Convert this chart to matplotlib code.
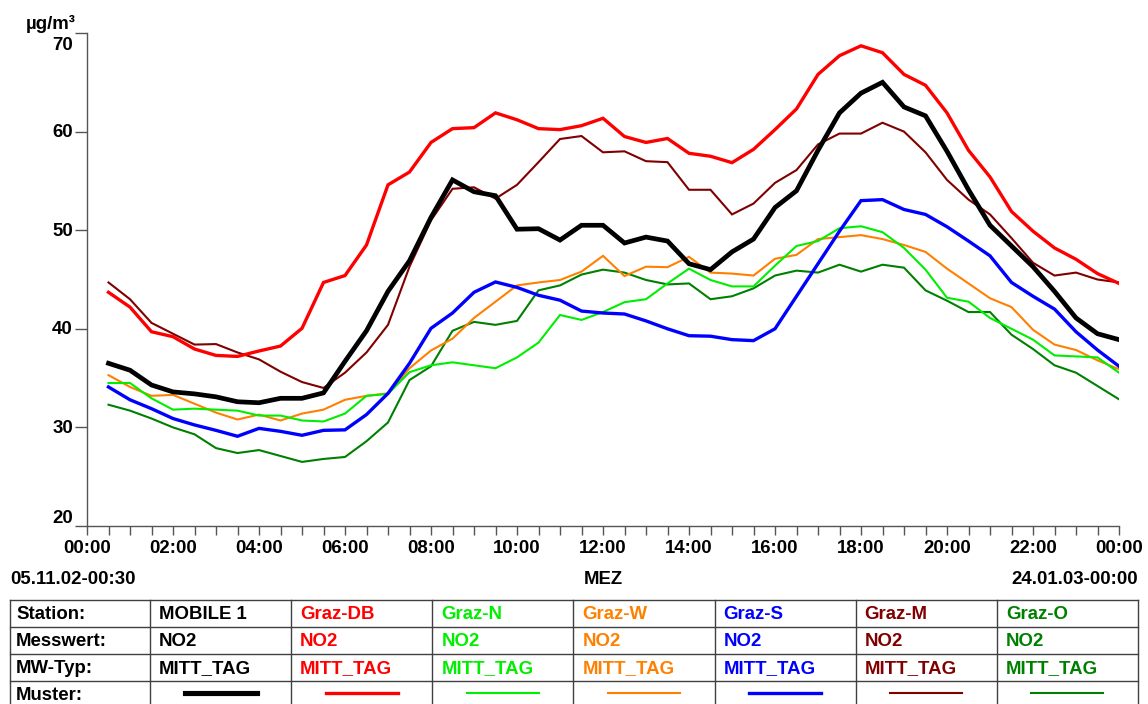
import numpy as np
import matplotlib
matplotlib.use("Agg")
import matplotlib.pyplot as plt
from matplotlib.lines import Line2D

plt.rcParams['font.family'] = ['Liberation Sans', 'DejaVu Sans']
plt.rcParams['font.weight'] = 'bold'

# half-hourly diurnal means, 00:30 ... 24:00
hours = np.arange(1, 49) * 0.5

mobile_1 = [36.5, 35.8, 34.3, 33.6, 33.4, 33.1, 32.6, 32.5, 32.95, 32.95, 33.5, 36.7,
            39.8, 43.8, 46.9, 51.3, 55.1, 53.9, 53.5, 50.1, 50.15, 49.0, 50.5, 50.5,
            48.7, 49.3, 48.9, 46.6, 46.0, 47.8, 49.1, 52.3, 54.0, 58.1, 61.9, 63.9,
            65.0, 62.5, 61.6, 58.0, 54.1, 50.5, 48.4, 46.3, 43.8, 41.1, 39.5, 38.9]
graz_db = [43.7, 42.2, 39.7, 39.2, 37.95, 37.3, 37.2, 37.75, 38.25, 40.05, 44.7, 45.4,
           48.5, 54.6, 55.9, 58.9, 60.3, 60.4, 61.9, 61.2, 60.3, 60.2, 60.6, 61.35,
           59.5, 58.9, 59.3, 57.8, 57.5, 56.85, 58.2, 60.2, 62.3, 65.8, 67.7, 68.7,
           68.0, 65.8, 64.7, 61.9, 58.1, 55.4, 51.9, 49.9, 48.2, 47.05, 45.6, 44.6]
graz_n = [34.5, 34.5, 32.95, 31.8, 31.9, 31.8, 31.7, 31.2, 31.2, 30.7, 30.6, 31.4,
          33.2, 33.4, 35.6, 36.3, 36.6, 36.3, 36.0, 37.1, 38.6, 41.4, 40.9, 41.7,
          42.7, 43.0, 44.6, 46.1, 44.95, 44.3, 44.3, 46.4, 48.4, 48.9, 50.2, 50.4,
          49.8, 48.2, 46.0, 43.15, 42.75, 41.1, 40.0, 38.9, 37.3, 37.2, 37.1, 35.55]
graz_w = [35.3, 34.1, 33.2, 33.3, 32.4, 31.5, 30.8, 31.3, 30.7, 31.4, 31.8, 32.8,
          33.2, 33.45, 36.0, 37.8, 39.0, 41.1, 42.75, 44.4, 44.7, 44.95, 45.8, 47.4,
          45.35, 46.3, 46.25, 47.3, 45.7, 45.6, 45.4, 47.1, 47.5, 49.1, 49.3, 49.5,
          49.1, 48.5, 47.8, 46.1, 44.6, 43.1, 42.2, 39.9, 38.4, 37.85, 36.8, 35.9]
graz_s = [34.1, 32.8, 31.9, 30.9, 30.25, 29.7, 29.1, 29.9, 29.6, 29.2, 29.7, 29.75,
          31.3, 33.45, 36.5, 40.05, 41.6, 43.7, 44.75, 44.2, 43.4, 42.9, 41.8, 41.6,
          41.5, 40.8, 40.0, 39.3, 39.25, 38.9, 38.8, 40.0, 43.3, 46.6, 49.9, 53.0,
          53.1, 52.1, 51.6, 50.35, 48.9, 47.4, 44.7, 43.3, 42.0, 39.7, 37.85, 36.2]
graz_m = [44.7, 43.0, 40.6, 39.5, 38.4, 38.45, 37.6, 36.9, 35.65, 34.6, 34.0, 35.55,
          37.6, 40.4, 46.3, 51.0, 54.2, 54.35, 53.2, 54.6, 56.9, 59.25, 59.55, 57.9,
          58.0, 57.0, 56.9, 54.1, 54.1, 51.6, 52.7, 54.8, 56.1, 58.7, 59.8, 59.8,
          60.9, 60.0, 57.9, 55.1, 53.1, 51.6, 49.2, 46.7, 45.4, 45.7, 45.0, 44.7]
graz_o = [32.3, 31.7, 30.9, 30.0, 29.3, 27.9, 27.4, 27.7, 27.1, 26.5, 26.8, 27.0,
          28.6, 30.5, 34.8, 36.2, 39.8, 40.7, 40.4, 40.8, 43.9, 44.4, 45.5, 46.0,
          45.7, 44.95, 44.5, 44.6, 43.0, 43.3, 44.1, 45.4, 45.9, 45.7, 46.5, 45.8,
          46.5, 46.2, 43.9, 42.85, 41.7, 41.7, 39.4, 37.95, 36.3, 35.55, 34.2, 32.85]

stations = ['MOBILE 1', 'Graz-DB', 'Graz-N', 'Graz-W', 'Graz-S', 'Graz-M', 'Graz-O']
components = ['NO2'] * 7
value_types = ['MITT_TAG'] * 7
series = [mobile_1, graz_db, graz_n, graz_w, graz_s, graz_m, graz_o]
colors = ['#000000', '#ff0000', '#00ee00', '#ff8000', '#0000ff', '#800000', '#008000']
widths = [3.4, 2.4, 1.5, 1.5, 2.4, 1.5, 1.5]

y_ticks = [20, 30, 40, 50, 60, 70]
x_major = np.arange(0, 25, 2)
x_labels = ['%02d:00' % (h % 24) for h in x_major]

W, H = 1148, 704
fig = plt.figure(figsize=(W / 100, H / 100), dpi=100)
ax = fig.add_axes([87 / W, 1 - 526 / H, (1119 - 87) / W, (526 - 33) / H])

# drawing order: thin lines first, the mobile station on top
order = [6, 5, 3, 2, 4, 1, 0]
for i in order:
    ax.plot(hours, series[i], color=colors[i], lw=widths[i],
            solid_joinstyle='miter', zorder=2 + order.index(i))

ax.set_xlim(0, 24)
ax.set_ylim(20, 70)
for s in ('top', 'right'):
    ax.spines[s].set_visible(False)
axis_col = '#555555'
for s in ('left', 'bottom'):
    ax.spines[s].set_color(axis_col)
    ax.spines[s].set_linewidth(1.0)

ax.set_xticks(x_major)
ax.set_xticklabels(x_labels, fontsize=13.4, fontweight='bold')
ax.set_xticks(np.arange(0, 24.01, 0.5), minor=True)
ax.tick_params(axis='x', which='both', direction='out', length=6.5, width=1.0,
               color=axis_col, pad=3.5)

ax.set_yticks(y_ticks)
ax.set_yticklabels([])
ax.tick_params(axis='y', direction='out', length=8.6, width=1.0, color=axis_col)
ytrans = ax.get_yaxis_transform()
for v in y_ticks:
    if v == y_ticks[-1]:
        va, dy = 'top', -0.45
    elif v == y_ticks[0]:
        va, dy = 'baseline', 0.3
    else:
        va, dy = 'center', -0.1
    ax.text(-14 / (1119 - 87), v + dy, str(v), transform=ytrans, ha='right', va=va,
            fontsize=13.4, fontweight='bold')

fig.text(76 / W, 1 - 24 / H, 'µg/m³', ha='right', va='center', fontsize=13.4,
         fontweight='bold')

# footer line under the time axis
fig.text(10 / W, 1 - 580 / H, '05.11.02-00:30', ha='left', va='center',
         fontsize=13.4, fontweight='bold')
fig.text(603 / W, 1 - 580 / H, 'MEZ', ha='center', va='center', fontsize=13.4,
         fontweight='bold')
fig.text(1138 / W, 1 - 580 / H, '24.01.03-00:00', ha='right', va='center',
         fontsize=13.4, fontweight='bold')

# station table in pixel coordinates
tab = fig.add_axes([0, 0, 1, 1], zorder=-1)
tab.set_xlim(0, W)
tab.set_ylim(H, 0)
tab.axis('off')
grid_col = '#404040'
rows = [600, 627, 654, 681, 708]
col_left = 10
col_first = 150
col_right = 1138
col_w = (col_right - col_first) / 7
cols = [col_left] + [col_first + i * col_w for i in range(8)]
for r in rows:
    tab.plot([col_left, col_right], [r, r], color=grid_col, lw=1.0)
for c in cols:
    tab.plot([c, c], [rows[0], rows[-1]], color=grid_col, lw=1.0)

row_titles = ['Station:', 'Messwert:', 'MW-Typ:', 'Muster:']
for j, t in enumerate(row_titles):
    tab.text(16, (rows[j] + rows[j + 1]) / 2 + 1, t, ha='left', va='center',
             fontsize=13.4, fontweight='bold', color='black')
for i in range(7):
    x0 = cols[i + 1]
    for j, t in enumerate([stations[i], components[i], value_types[i]]):
        tab.text(x0 + 9, (rows[j] + rows[j + 1]) / 2 + 1, t, ha='left',
                 va='center', fontsize=13.4, fontweight='bold', color=colors[i])
    xc = x0 + col_w / 2
    tab.add_line(Line2D([xc - 36, xc + 36], [693, 693], color=colors[i],
                        lw=widths[i] + (0.3 if i == 0 else 0)))

fig.savefig('out.png', dpi=100)
